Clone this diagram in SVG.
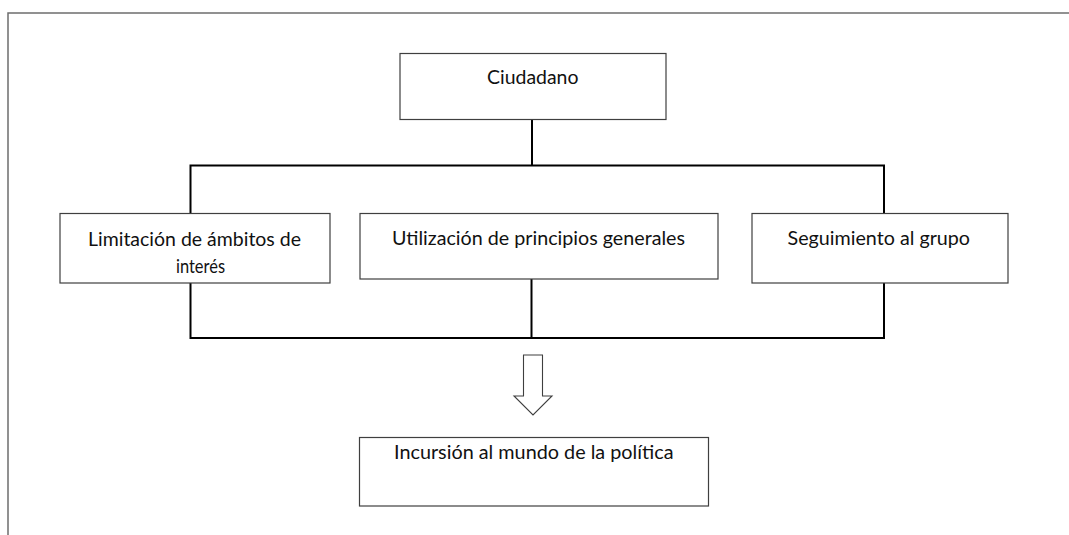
<svg xmlns="http://www.w3.org/2000/svg" width="1069" height="535" viewBox="0 0 1069 535">
<style>
.box{fill:#fff;stroke:#3f3f3f;stroke-width:1.2}
.lbl{font-family:Lato,"Open Sans","Liberation Sans",sans-serif;font-size:18.5px;fill:#111}
.con{fill:none;stroke:#000;stroke-width:2}
.frame{fill:none;stroke:#6e6e6e;stroke-width:1.5}
</style>
<rect width="1069" height="535" fill="#fff"/>
<path class="frame" d="M1069,13 H8 V535"/>
<g id="connectors">
<path class="con" d="M532,119.5 V166"/>
<path class="con" d="M190.5,213.5 V165.5 H884 V213.5"/>
<path class="con" d="M190.5,283 V338 H884 V283"/>
<path class="con" d="M531.5,279 V338"/>
<path d="M523.5,355 H542.5 V396 H552 L533,415 L514,396 H523.5 Z" fill="#fff" stroke="#3f3f3f" stroke-width="1.1"/>
</g>
<g id="ciudadano">
<rect class="box" x="400" y="53.5" width="266" height="66"/>
<text class="lbl" x="487" y="84" textLength="91.5" lengthAdjust="spacingAndGlyphs">Ciudadano</text>
</g>
<g id="limitacion">
<rect class="box" x="60" y="213.5" width="270" height="69.5"/>
<text class="lbl" x="88" y="246" textLength="213" lengthAdjust="spacingAndGlyphs">Limitación de ámbitos de</text>
<text class="lbl" x="176" y="273" textLength="49" lengthAdjust="spacingAndGlyphs">interés</text>
</g>
<g id="utilizacion">
<rect class="box" x="360" y="213.5" width="358" height="65.5"/>
<text class="lbl" x="392" y="245" textLength="293" lengthAdjust="spacingAndGlyphs">Utilización de principios generales</text>
</g>
<g id="seguimiento">
<rect class="box" x="752" y="213.5" width="256" height="69.5"/>
<text class="lbl" x="787.5" y="245" textLength="182.5" lengthAdjust="spacingAndGlyphs">Seguimiento al grupo</text>
</g>
<g id="incursion">
<rect class="box" x="359.5" y="437.5" width="349" height="68.5"/>
<text class="lbl" x="394" y="459" textLength="279.5" lengthAdjust="spacingAndGlyphs">Incursión al mundo de la política</text>
</g>
</svg>
